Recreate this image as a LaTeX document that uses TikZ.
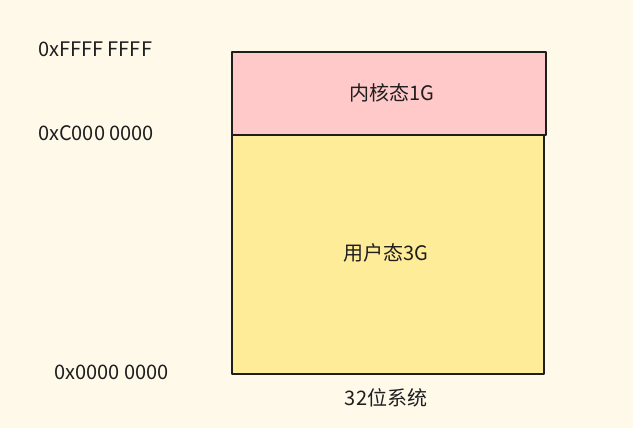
\documentclass[tikz,border=0pt]{standalone}
\usepackage{fontspec}
\setmainfont{Noto Sans CJK SC}
\definecolor{bg}{HTML}{FFF9EA}
\definecolor{pinkf}{HTML}{FFC9C9}
\definecolor{yellowf}{HTML}{FFEC99}
\definecolor{ink}{HTML}{1E1E1E}
\begin{document}
\begin{tikzpicture}[x=1pt,y=-1pt,
  lbl/.style={font=\fontsize{20}{24}\selectfont, text=ink, inner sep=0pt},
  addr/.style={lbl, anchor=west},
  region/.style={draw=ink, line width=1.6pt, line join=round}]
\fill[bg] (0,0) rectangle (633,428);
\useasboundingbox (0,0) rectangle (633,428);
\node[region, fill=pinkf, minimum width=314pt, minimum height=83pt, anchor=north west, inner sep=0pt] (kernel) at (231,51) {};
\node[region, fill=yellowf, minimum width=312pt, minimum height=239pt, anchor=north west, inner sep=0pt] (user) at (231,134) {};
\node[lbl] (ktext) at (392,93) {内核态1G};
\node[lbl] (utext) at (386,253) {用户态3G};
\node[lbl] (sys) at (386,398) {32位系统};
\node[addr] (top) at (38,49) {0xFFFF FFFF};
\node[addr] (mid) at (38,133) {0xC000 0000};
\node[addr] (bot) at (54,372) {0x0000 0000};
\end{tikzpicture}
\end{document}
